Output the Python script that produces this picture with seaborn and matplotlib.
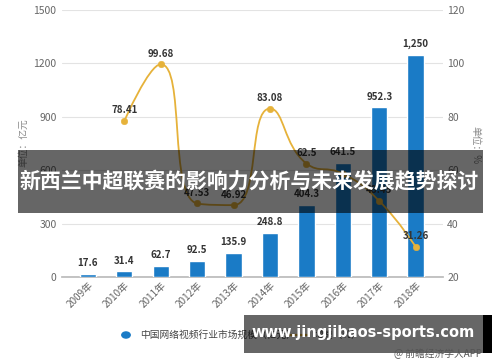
import numpy as np
import pandas as pd
import matplotlib
matplotlib.use("Agg")
import matplotlib.pyplot as plt
import seaborn as sns
from matplotlib.path import Path
from matplotlib.patches import PathPatch, Rectangle, Circle
from matplotlib.lines import Line2D

# ---- data ----
years = ["2009年", "2010年", "2011年", "2012年", "2013年", "2014年", "2015年", "2016年", "2017年", "2018年"]
market_size = [17.6, 31.4, 62.7, 92.5, 135.9, 248.8, 404.3, 641.5, 952.3, 1250]
size_labels = ["17.6", "31.4", "62.7", "92.5", "135.9", "248.8", "404.3", "641.5", "952.3", "1,250"]
growth_years = ["2010年", "2011年", "2012年", "2013年", "2014年", "2015年", "2016年", "2017年", "2018年"]
growth = [78.41, 99.68, 47.53, 46.92, 83.08, 62.5, 58.67, 48.45, 31.26]
growth_labels = ["78.41", "99.68", "47.53", "46.92", "83.08", "62.5", "", "48.45", "31.26"]
left_ticks = [0, 300, 600, 900, 1200, 1500]
right_ticks = [20, 40, 60, 80, 100, 120]

title_text = "新西兰中超联赛的影响力分析与未来发展趋势探讨"
site_text = "www.jingjibaos-sports.com"

sns.set_theme(style="white")
plt.rcParams['font.family'] = ['Noto Sans CJK SC', 'DejaVu Sans']

BLUE = "#1a7bc6"
GOLD = "#e6b23a"

W, H = 500, 362
fig = plt.figure(figsize=(W / 100, H / 100), dpi=100)
ax = fig.add_axes([62 / W, 1 - 277 / H, (443 - 62) / W, (277 - 10) / H])

df = pd.DataFrame({"year": years, "size": market_size})
sns.barplot(data=df, x="year", y="size", color=BLUE, width=0.45, ax=ax,
            saturation=1, zorder=3)
ax.set_xlim(-0.71, 9.75)
ax.set_ylim(0, 1500)
ax.set_yticks(left_ticks)
ax.set_yticklabels([str(t) for t in left_ticks])
ax.set_xlabel("")
ax.set_ylabel("")
ax.grid(axis="y", color="#e3e3e3", linewidth=0.8, zorder=0)
for s in ["top", "right", "left"]:
    ax.spines[s].set_visible(False)
ax.spines["bottom"].set_color("#bbbbbb")
ax.tick_params(axis="y", length=0, labelsize=7.5, labelcolor="#666666", pad=4)
ax.tick_params(axis="x", length=0, labelsize=7.2, labelcolor="#666666", pad=2)
for lab in ax.get_xticklabels():
    lab.set_rotation(45)
    lab.set_ha("right")
    lab.set_rotation_mode("anchor")

for i, (v, t) in enumerate(zip(market_size, size_labels)):
    ax.annotate(t, (i, v), xytext=(0, 4), textcoords="offset points",
                ha="center", va="bottom", fontsize=7, fontweight="bold",
                color="#333333", zorder=5)

ax2 = ax.twinx()
ax2.set_ylim(20, 120)
ax2.set_yticks(right_ticks)
ax2.set_yticklabels([str(t) for t in right_ticks])
for s in ax2.spines.values():
    s.set_visible(False)
ax2.tick_params(axis="y", length=0, labelsize=7.5, labelcolor="#666666", pad=3)
ax2.set_xlim(-0.71, 9.75)

gx = [years.index(y) for y in growth_years]
gdf = pd.DataFrame({"x": gx, "g": growth})

# smooth line (echarts 5 style clamped bezier), built from the data via transData
fig.canvas.draw()
pts = ax2.transData.transform(np.column_stack([gx, growth]))
n = len(pts)
smooth = 0.5
verts = [pts[0]]
codes = [Path.MOVETO]
cp0 = pts[0].copy()
prev = pts[0].copy()
for i in range(1, n):
    x, y = pts[i]
    px, py = prev
    if i == n - 1:
        ncp = np.array([x, y])
        tmp = np.array([x, y])
    else:
        nx, ny = pts[i + 1]
        vx, vy = nx - px, ny - py
        lp = np.hypot(x - px, y - py)
        ln = np.hypot(nx - x, ny - y)
        r = ln / (ln + lp)
        tx = x + vx * smooth * r
        ty = y + vy * smooth * r
        tx = min(tx, max(nx, x)); ty = min(ty, max(ny, y))
        tx = max(tx, min(nx, x)); ty = max(ty, min(ny, y))
        vx, vy = tx - x, ty - y
        cx = x - vx * lp / ln
        cy = y - vy * lp / ln
        cx = min(cx, max(px, x)); cy = min(cy, max(py, y))
        cx = max(cx, min(px, x)); cy = max(cy, min(py, y))
        vx, vy = x - cx, y - cy
        tx = x + vx * ln / lp
        ty = y + vy * ln / lp
        ncp = np.array([cx, cy])
        tmp = np.array([tx, ty])
    verts += [cp0, ncp, pts[i]]
    codes += [Path.CURVE4] * 3
    cp0 = tmp
    prev = pts[i].copy()
verts = ax2.transData.inverted().transform(np.array(verts))
ax2.add_patch(PathPatch(Path(verts, codes), facecolor="none", edgecolor=GOLD,
                        linewidth=1.3, zorder=4))
sns.scatterplot(data=gdf, x="x", y="g", color=GOLD, s=22, edgecolor=GOLD,
                ax=ax2, zorder=5, legend=False)
ax2.set_xlabel("")
ax2.set_ylabel("")
ax2.set_xlim(-0.71, 9.75)

for x, g, t in zip(gx, growth, growth_labels):
    if t:
        ax2.annotate(t, (x, g), xytext=(0, 4), textcoords="offset points",
                     ha="center", va="bottom", fontsize=7, fontweight="bold",
                     color="#333333", zorder=6)

# axis unit labels
fig.text(23 / W, 1 - 143 / H, "单位：亿元", rotation=90, ha="center", va="center",
         fontsize=7, color="#888888")
fig.text(475 / W, 1 - 145 / H, "单位：%", rotation=-90, ha="center", va="center",
         fontsize=7, color="#888888")

# legend
fig.add_artist(Circle((126 / W, 1 - 335 / H), 4.2 / W, transform=fig.transFigure,
                      color=BLUE))
fig.text(140 / W, 1 - 335 / H, "中国网络视频行业市场规模（亿元）", ha="left", va="center",
         fontsize=7, color="#444444")
fig.add_artist(Line2D([290 / W, 308 / W], [1 - 335 / H, 1 - 335 / H],
                      transform=fig.transFigure, color=GOLD, linewidth=1.6))
fig.text(314 / W, 1 - 335 / H, "增速（%）", ha="left", va="center",
         fontsize=7, color="#444444")

# overlay banners
fig.add_artist(Rectangle((18 / W, 1 - 213 / H), (483 - 18) / W, (213 - 150) / H,
                         transform=fig.transFigure, color="black", alpha=0.6,
                         zorder=10, linewidth=0))
fig.text(249 / W, 1 - 182 / H, title_text, ha="center", va="center",
         fontsize=15, fontweight="bold", color="white", zorder=11)
fig.add_artist(Rectangle((244 / W, 1 - 353 / H), (483 - 244) / W, (353 - 315) / H,
                         transform=fig.transFigure, color="black", alpha=0.6,
                         zorder=10, linewidth=0))
fig.add_artist(Rectangle((483 / W, 1 - 353 / H), (492 - 483) / W, (353 - 315) / H,
                         transform=fig.transFigure, color="black", alpha=1.0,
                         zorder=10, linewidth=0))
fig.text(363 / W, 1 - 333 / H, site_text, ha="center", va="center",
         fontsize=10.5, fontweight="bold", color="white", zorder=11,
         family=["DejaVu Sans"])
fig.text(482 / W, 1 - 354 / H, "@ 前瞻经济学人APP", ha="right", va="center",
         fontsize=7, color="#555555", zorder=12)

fig.savefig("out.png", dpi=100)
